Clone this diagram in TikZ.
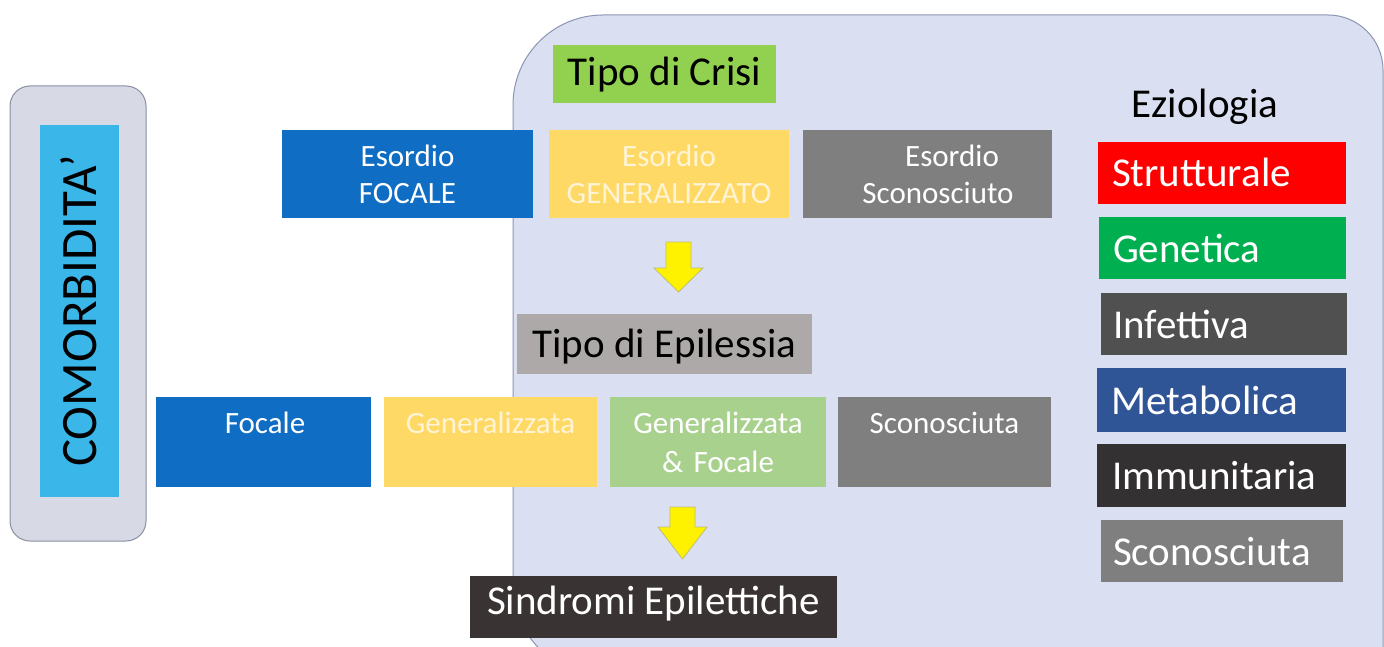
\documentclass[tikz,border=0pt]{standalone}
\usepackage{fontspec}
\setmainfont{Carlito}
\definecolor{bigfill}{HTML}{DAE0F1}
\definecolor{bigline}{HTML}{8C96B4}
\definecolor{comfill}{HTML}{D7DAE5}
\definecolor{comline}{HTML}{8A90A2}
\definecolor{ccyan}{HTML}{3BB6E8}
\definecolor{cblue}{HTML}{0F6DC4}
\definecolor{cyel}{HTML}{FFD966}
\definecolor{cyeltxt}{HTML}{FFF4D6}
\definecolor{cgray}{HTML}{7F7F7F}
\definecolor{clgreen}{HTML}{A9D18E}
\definecolor{cgreen}{HTML}{92D050}
\definecolor{cepi}{HTML}{ADA9A9}
\definecolor{csind}{HTML}{3A3334}
\definecolor{cred}{HTML}{FF0000}
\definecolor{cgen}{HTML}{00B050}
\definecolor{cinf}{HTML}{505050}
\definecolor{cmet}{HTML}{2F5597}
\definecolor{cimm}{HTML}{333132}
\definecolor{arrline}{HTML}{BDBD7A}
\begin{document}
\begin{tikzpicture}[x=1pt,y=-1pt,
  box/.style={draw=none, inner sep=0pt, outer sep=0pt},
  ftA/.style={font=\fontsize{31}{37}\selectfont},
  ftB/.style={font=\fontsize{41}{49}\selectfont},
  toprow/.style={box, ftA, text=white, align=center, minimum height=88},
  botrow/.style={box, ftA, text=white, align=center, minimum height=90, text height=36pt, text depth=54pt},
  etbox/.style={box, ftB, text=white, align=left, text height=28pt, text depth=0pt},
  yarrow/.style={fill=yellow, draw=arrline, line width=0.8pt, line join=miter}
]
\useasboundingbox (0,0) rectangle (1384,647);
\clip (0,0) rectangle (1384,647);
\fill[white] (0,0) rectangle (1384,647);

% large rounded panel
\draw[fill=bigfill, draw=bigline, line width=1pt]
  (603,675) arc[start angle=90, end angle=180, radius=90]
  -- (513,105) arc[start angle=180, end angle=270, radius=90]
  -- (1328,15) arc[start angle=270, end angle=360, radius=55]
  -- (1383,675) -- cycle;

% comorbidita
\node[box, fill=comfill, draw=comline, line width=1pt, rounded corners=20pt,
      minimum width=136, minimum height=455] (comout) at (78,313.5) {};
\node[box, fill=ccyan, rotate=90, minimum width=372, minimum height=79,
      font=\fontsize{51}{60}\selectfont, text height=33pt, text depth=0pt] (com) at (79.5,311) {COMORBIDITA’};

% tipo di crisi
\node[box, fill=cgreen, ftB, minimum width=223, minimum height=58,
      text height=26pt, text depth=2pt] (crisi) at (664.5,74) {Tipo di Crisi};

% top row
\node[toprow, fill=cblue, text width=251pt] (efoc) at (407.5,174) {Esordio\\FOCALE};
\node[toprow, fill=cyel, text=cyeltxt, text width=240pt] (egen) at (669,174) {Esordio\\GENERALIZZATO};
\node[toprow, fill=cgray, text width=249pt] (escon) at (927.5,174) {\hspace*{49pt}Esordio\\\hspace*{21pt}Sconosciuto};

% arrow 1
\draw[yarrow] (666,242) -- (691,242) -- (691,268) -- (703,268) -- (678.5,292)
  -- (654,268) -- (666,268) -- cycle;

% tipo di epilessia
\node[box, fill=cepi, ftB, minimum width=295, minimum height=60,
      text height=28pt, text depth=2pt] (epi) at (664.5,344) {Tipo di Epilessia};

% bottom row
\node[botrow, fill=cblue, text width=215pt] (pfoc) at (263.5,442) {\hspace*{3pt}Focale};
\node[botrow, fill=cyel, text=cyeltxt, text width=213pt] (pgen) at (490.5,442) {Generalizzata};
\node[botrow, fill=clgreen, text width=216pt, font=\fontsize{31}{39}\selectfont] (pgf) at (718,442) {Generalizzata\\\& Focale};
\node[botrow, fill=cgray, text width=213pt] (pscon) at (944.5,442) {Sconosciuta};

% arrow 2
\draw[yarrow] (670,507) -- (695,507) -- (695,527) -- (707,527) -- (682.5,559)
  -- (658,527) -- (670,527) -- cycle;

% sindromi
\node[box, fill=csind, text=white, ftB, minimum width=367, minimum height=62,
      text height=24pt, text depth=10pt] (sind) at (653.5,607) {Sindromi Epilettiche};

% eziologia
\node[ftB, anchor=base, inner sep=0pt] (ezl) at (1205,118) {Eziologia};
\node[etbox, fill=cred, text width=220pt, inner xsep=14pt, minimum height=62] (e1) at (1222,173) {Strutturale};
\node[etbox, fill=cgen, text width=219pt, inner xsep=14pt, minimum height=62] (e2) at (1222.5,248) {Genetica};
\node[etbox, fill=cinf, text width=222pt, inner xsep=12pt, minimum height=62] (e3) at (1224,324) {Infettiva};
\node[etbox, fill=cmet, text width=221pt, inner xsep=14pt, minimum height=64] (e4) at (1221.5,400) {Metabolica};
\node[etbox, fill=cimm, text width=219pt, inner xsep=15pt, minimum height=63] (e5) at (1221.5,475.5) {Immunitaria};
\node[etbox, fill=cgray, text width=218pt, inner xsep=12pt, minimum height=62] (e6) at (1222,551) {Sconosciuta};
\end{tikzpicture}
\end{document}
